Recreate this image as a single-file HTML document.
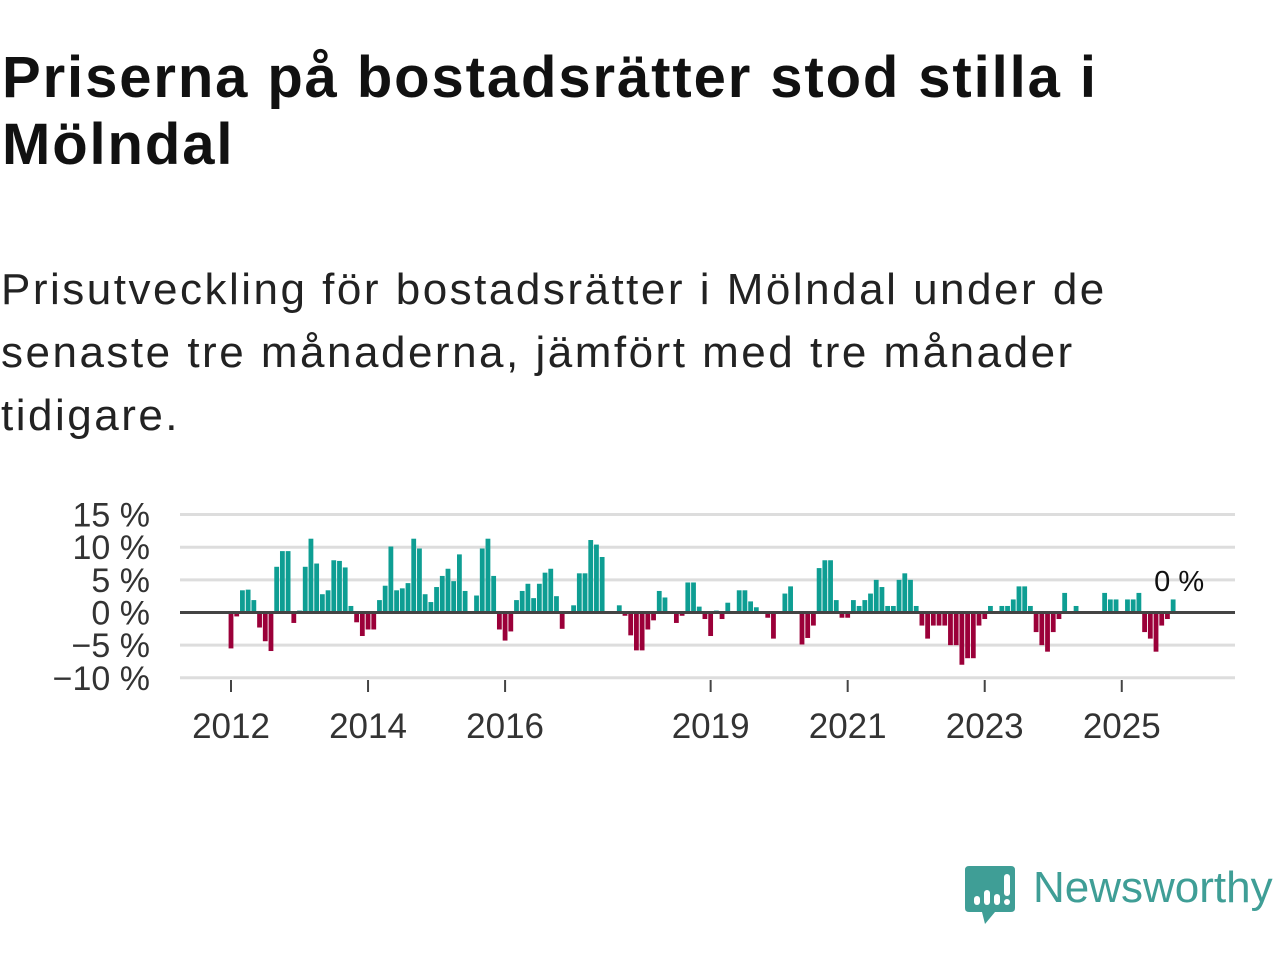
<!DOCTYPE html>
<html><head><meta charset="utf-8">
<style>
body{margin:0;width:1280px;height:960px;background:#fff;position:relative;overflow:hidden;font-family:"Liberation Sans","DejaVu Sans",sans-serif;color:#111;}
#title{position:absolute;left:2px;top:44px;font-size:58px;font-weight:bold;line-height:67px;margin:0;white-space:nowrap;letter-spacing:1.9px;}
#subtitle{position:absolute;left:1px;top:258px;font-size:44px;line-height:63px;margin:0;color:#222;white-space:nowrap;letter-spacing:2.5px;}
svg{position:absolute;left:0;top:0;}
</style></head><body>
<h1 id="title">Priserna på bostadsrätter stod stilla i<br>Mölndal</h1>
<p id="subtitle">Prisutveckling för bostadsrätter i Mölndal under de<br>senaste tre månaderna, jämfört med tre månader<br>tidigare.</p>
<svg id="chart" width="1280" height="960"></svg>
<div style="position:absolute;left:965px;top:866px;">
<svg width="52" height="60" viewBox="0 0 52 60" style="position:absolute;left:0;top:0;"><path d="M4 0H46Q50 0 50 4V42Q50 46 46 46H30L20 58L17 46H4Q0 46 0 42V4Q0 0 4 0Z" fill="#3f9e96"/><rect x="9" y="30" width="6" height="9" rx="3" fill="#fff"/><rect x="19" y="24" width="6" height="15" rx="3" fill="#fff"/><rect x="29" y="28" width="6" height="11" rx="3" fill="#fff"/><rect x="39" y="8" width="6" height="22" rx="3" fill="#fff"/><circle cx="42" cy="36" r="3" fill="#fff"/></svg>
<span style="position:absolute;left:68px;top:-3px;font-size:44px;color:#3f9e96;white-space:nowrap;">Newsworthy</span>
</div>
<script>
const values=[-5.5,-0.6,3.4,3.5,1.9,-2.3,-4.4,-5.9,7.0,9.4,9.4,-1.6,0.3,7.0,11.3,7.5,2.8,3.4,8.0,7.9,6.9,1.0,-1.5,-3.6,
-2.6,-2.6,1.9,4.1,10.1,3.4,3.7,4.5,11.3,9.8,2.8,1.6,3.9,5.6,6.7,4.8,8.9,3.3,0,2.6,9.8,11.3,5.6,-2.6,
-4.3,-2.9,1.9,3.3,4.4,2.2,4.4,6.1,6.7,2.5,-2.5,0,1.1,6.0,6.0,11.1,10.4,8.5,0.2,0,1.1,-0.5,-3.5,-5.8,
-5.8,-2.6,-1.2,3.3,2.3,0,-1.6,-0.5,4.6,4.6,0.9,-1.0,-3.6,0.3,-1.0,1.5,0.2,3.4,3.4,1.7,0.8,0,-0.8,-4.0,
0,2.9,4.0,0,-4.9,-3.9,-2.0,6.8,8.0,8.0,1.9,-0.8,-0.8,1.9,1.0,1.9,2.9,5.0,3.9,1,1,5,6,5,
1,-2,-4,-2,-2,-2,-5,-5,-8,-7,-7,-2,-1,1,0,1,1,2,4,4,1,-3,-5,-6,
-3,-1,3,0,1,0,0,0,0,3,2,2,0,2,2,3,-3,-4,-6,-2,-1,2];
const startYear=2012;
const yTicks=[15,10,5,0,-5,-10];
const yTickLabels=["15 %","10 %","5 %","0 %","\u22125 %","\u221210 %"];
const xTickYears=[2012,2014,2016,2019,2021,2023,2025];
const lastLabel="0 %";
const NS="http://www.w3.org/2000/svg";
const svg=document.getElementById('chart');
const x0=231,monthW=5.71,zeroY=612.5,pxPer=6.53;
const xs=m=>x0+m*monthW;
const ys=v=>zeroY-v*pxPer;
function mk(t,a){const e=document.createElementNS(NS,t);for(const k in a)e.setAttribute(k,a[k]);svg.appendChild(e);return e;}
yTicks.forEach((t,i)=>{
 if(t!==0){
 const l=mk('line',{x1:180,x2:1235,y1:ys(t),y2:ys(t),stroke:'#ddd','stroke-width':3});
 
 
 }
 const tx=mk('text',{x:150,y:ys(t)+12,'text-anchor':'end','font-size':34,fill:'#333','font-family':'Liberation Sans, sans-serif'});
 tx.textContent=yTickLabels[i];
 
 
});
values.forEach((v,m)=>{
 if(v===0)return;
 const y=Math.min(ys(v),zeroY),h=Math.abs(ys(v)-zeroY);
 const r=mk('rect',{x:xs(m)-2.4,y:y,width:4.8,height:h,fill:v>0?'#0e9e93':'#9b0039'});
 
 
});
const zl=mk('line',{x1:180,x2:1235,y1:zeroY,y2:zeroY,stroke:'#444','stroke-width':3});


xTickYears.forEach(yr=>{
 const x=xs((yr-startYear)*12);
 const t=mk('line',{x1:x,x2:x,y1:680,y2:692,stroke:'#444','stroke-width':2});
 
 
 const tx=mk('text',{x:x,y:738,'text-anchor':'middle','font-size':35,fill:'#333','font-family':'Liberation Sans, sans-serif'});
 tx.textContent=yr;
 
 
});
const ll=mk('text',{x:xs(values.length-1)+6,y:591,'text-anchor':'middle','font-size':29,fill:'#111','font-family':'Liberation Sans, sans-serif'});
ll.textContent=lastLabel;


</script>
</body></html>
